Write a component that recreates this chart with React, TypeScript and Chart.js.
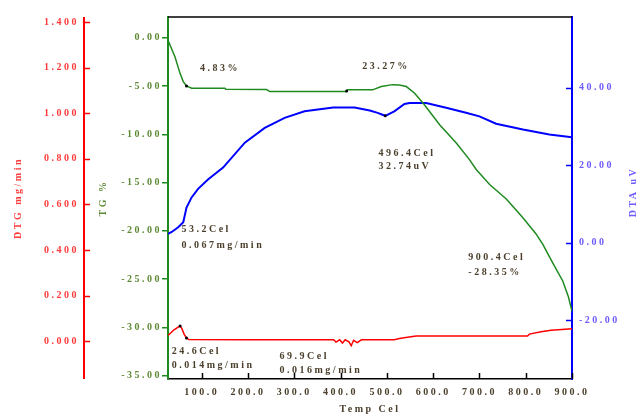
import { useEffect, useRef } from "react";
import { Chart, registerables } from "chart.js";

Chart.register(...registerables);

// Temperature axis (Cel)
const tempMin = 27;
const tempMax = 900;
const tempTicks = [100, 200, 300, 400, 500, 600, 700, 800, 900];

// TG curve (%)
const tgTemps = [27, 42, 53, 60, 67, 78, 150, 152, 240, 247, 413, 415, 469, 488, 512, 527, 542, 560, 581, 614, 650, 678, 693, 722, 758, 793, 822, 837, 858, 880, 892, 900];
const tgValues = [-0.25, -1.96, -3.68, -4.54, -4.98, -5.23, -5.23, -5.33, -5.36, -5.57, -5.57, -5.39, -5.39, -5.05, -4.85, -4.88, -5.05, -5.74, -6.94, -9.0, -10.9, -12.6, -13.64, -15.2, -16.7, -18.6, -20.3, -21.4, -23.3, -25.2, -26.8, -28.35];
const tgTicks = [0, -5, -10, -15, -20, -25, -30, -35];

// DTA curve (uV)
const dtaTemps = [27, 35, 49, 60, 67, 78, 92, 114, 146, 193, 236, 279, 322, 384, 430, 463, 480, 496.4, 516, 538, 549, 585, 628, 671, 700, 736, 794, 851, 900];
const dtaValues = [2.3, 2.8, 4.0, 5.3, 9.1, 11.7, 13.9, 16.4, 19.4, 25.8, 29.6, 32.2, 33.9, 34.9, 34.9, 34.1, 33.5, 32.74, 33.9, 35.8, 36.05, 36.05, 34.8, 33.5, 32.6, 30.7, 29.2, 27.9, 27.2];
const dtaTicks = [-20, 0, 20, 40];

// DTG curve (mg/min)
const dtgTemps = [27, 40, 53.2, 57, 62, 67, 72, 200, 300, 385, 390, 398, 404, 410, 418, 423, 428, 436, 445, 516, 527, 541, 563, 804, 808, 833, 855, 900];
const dtgValues = [0.025, 0.05, 0.067, 0.055, 0.03, 0.014, 0.007, 0.006, 0.006, 0.006, -0.004, 0.006, -0.008, 0.006, -0.003, -0.02, 0.004, -0.006, 0.006, 0.006, 0.012, 0.016, 0.023, 0.023, 0.031, 0.041, 0.048, 0.054];
const dtgTicks = [0, 0.2, 0.4, 0.6, 0.8, 1.0, 1.2, 1.4];

// Marked analysis points
const tgMarks = [{ x: 67, y: -4.98 }, { x: 413, y: -5.5 }];
const dtaMarks = [{ x: 496.4, y: 32.74 }];
const dtgMarks = [{ x: 53.2, y: 0.067 }, { x: 67, y: 0.014 }];

// Text notes, placed at (temperature, TG %)
const noteTexts = ["4.83%", "23.27%", "496.4Cel", "32.74uV", "53.2Cel", "0.067mg/min", "900.4Cel", "-28.35%", "24.6Cel", "0.014mg/min", "69.9Cel", "0.016mg/min"];
const noteTemps = [96, 447, 482, 482, 56, 56, 676, 676, 35, 35, 268, 268];
const noteTG = [-3.2, -3.0, -11.96, -13.3, -19.9, -21.5, -22.8, -24.33, -32.5, -33.97, -33.0, -34.5];

const GREEN = "#1f8a1f";
const BLUE = "#0000ff";
const RED = "#ff0000";
const FONT = "'Liberation Serif', 'Times New Roman', serif";
const SPACING = "2.5px";

const pts = (xs: number[], ys: number[]) => xs.map((x, i) => ({ x, y: ys[i] }));

const line = (ctx: CanvasRenderingContext2D, x1: number, y1: number, x2: number, y2: number) => {
  ctx.beginPath();
  ctx.moveTo(x1, y1);
  ctx.lineTo(x2, y2);
  ctx.stroke();
};

const decorPlugin = {
  id: "decor",
  beforeDraw(chart: any) {
    chart.ctx.letterSpacing = SPACING;
  },
  afterDatasetsDraw(chart: any) {
    const ctx: CanvasRenderingContext2D = chart.ctx;
    const ca = chart.chartArea;
    const xs = chart.scales.x;
    const dta = chart.scales.yDTA;
    const dtg = chart.scales.yDTG;
    ctx.save();
    ctx.lineCap = "butt";
    // top frame
    ctx.strokeStyle = "#000";
    ctx.lineWidth = 1.5;
    line(ctx, ca.left, ca.top, ca.right, ca.top);
    // inward temperature ticks
    ctx.lineWidth = 1.5;
    xs.ticks.forEach((t: any) => {
      const px = Math.round(xs.getPixelForValue(t.value)) + 0.5;
      line(ctx, px, ca.bottom, px, ca.bottom - 6);
    });
    // inward DTA ticks
    ctx.strokeStyle = BLUE;
    dta.ticks.forEach((t: any) => {
      const py = Math.round(dta.getPixelForValue(t.value)) + 0.5;
      line(ctx, ca.right - 6, py, ca.right, py);
    });
    // DTG axis line with ticks to the right
    ctx.strokeStyle = RED;
    ctx.lineWidth = 2;
    const ax = dtg.right - 6;
    line(ctx, ax, ca.top, ax, ca.bottom);
    ctx.lineWidth = 1.5;
    dtg.ticks.forEach((t: any) => {
      const py = Math.round(dtg.getPixelForValue(t.value)) + 0.5;
      line(ctx, ax, py, dtg.right, py);
    });
    ctx.restore();
  },
  afterDraw(chart: any) {
    const ctx: CanvasRenderingContext2D = chart.ctx;
    const xs = chart.scales.x;
    const tg = chart.scales.yTG;
    const dta = chart.scales.yDTA;
    const ca = chart.chartArea;
    ctx.save();
    ctx.letterSpacing = SPACING;
    ctx.font = `bold 10px ${FONT}`;
    ctx.fillStyle = "#4a3f2c";
    ctx.textAlign = "left";
    ctx.textBaseline = "middle";
    noteTexts.forEach((txt, i) => {
      ctx.fillText(txt, xs.getPixelForValue(noteTemps[i]), tg.getPixelForValue(noteTG[i]));
    });
    // right axis title, reading bottom to top
    ctx.translate(dta.right - 5, (ca.top + ca.bottom) / 2 - 6);
    ctx.rotate(-Math.PI / 2);
    ctx.textAlign = "center";
    ctx.fillStyle = "#6f5cff";
    ctx.fillText("DTA uV", 0, 0);
    ctx.restore();
  },
};

export default function App() {
  const canvasRef = useRef<HTMLCanvasElement>(null);

  useEffect(() => {
    const canvas = canvasRef.current;
    if (!canvas) return;
    const font = { family: FONT, size: 10, weight: "bold" as const };
    const chart = new Chart(canvas, {
      type: "line",
      data: {
        datasets: [
          { type: "scatter", data: tgMarks, yAxisID: "yTG", pointRadius: 1.5, pointBackgroundColor: "#000", pointBorderWidth: 0, showLine: false } as any,
          { type: "scatter", data: dtaMarks, yAxisID: "yDTA", pointRadius: 1.5, pointBackgroundColor: "#000", pointBorderWidth: 0, showLine: false } as any,
          { type: "scatter", data: dtgMarks, yAxisID: "yDTG", pointRadius: 1.5, pointBackgroundColor: "#000", pointBorderWidth: 0, showLine: false } as any,
          { label: "TG", data: pts(tgTemps, tgValues), yAxisID: "yTG", borderColor: GREEN, borderWidth: 1.5, pointRadius: 0, tension: 0 },
          { label: "DTA", data: pts(dtaTemps, dtaValues), yAxisID: "yDTA", borderColor: BLUE, borderWidth: 2, pointRadius: 0, tension: 0 },
          { label: "DTG", data: pts(dtgTemps, dtgValues), yAxisID: "yDTG", borderColor: RED, borderWidth: 1.5, pointRadius: 0, tension: 0 },
        ],
      },
      options: {
        responsive: false,
        animation: false,
        events: [],
        layout: { padding: { top: 15, left: 0, right: 0, bottom: 0 } },
        plugins: { legend: { display: false }, tooltip: { enabled: false } },
        scales: {
          x: {
            type: "linear",
            position: "bottom",
            min: tempMin,
            max: tempMax,
            afterBuildTicks: (s: any) => { s.ticks = tempTicks.map((v) => ({ value: v })); },
            afterFit: (s: any) => { s.height = 36; },
            grid: { display: false, drawTicks: false },
            border: { display: true, color: "#000", width: 1.5 },
            ticks: { padding: 7, color: "#4a3f2c", font, autoSkip: false, maxRotation: 0, callback: (v: any) => Number(v).toFixed(1) },
            title: { display: true, text: "Temp Cel", color: "#4a3f2c", font, padding: { top: 0, bottom: 0 } },
          },
          yDTG: {
            type: "linear",
            position: "left",
            weight: 2,
            min: -0.166,
            max: 1.422,
            afterBuildTicks: (s: any) => { s.ticks = dtgTicks.map((v) => ({ value: v })); },
            afterFit: (s: any) => { s.width = 90; },
            grid: { display: false, drawTicks: false, drawOnChartArea: false },
            border: { display: false },
            ticks: { padding: 11, color: "#ff3a3a", font, callback: (v: any) => Number(v).toFixed(3) },
            title: { display: true, text: "DTG mg/min", color: "#ff3a3a", font, padding: { top: 12, bottom: 0 } },
          },
          yTG: {
            type: "linear",
            position: "left",
            weight: 1,
            min: -35.36,
            max: 2.16,
            afterBuildTicks: (s: any) => { s.ticks = tgTicks.map((v) => ({ value: v })); },
            afterFit: (s: any) => { s.width = 78; },
            grid: { display: true, drawOnChartArea: false, drawTicks: true, tickLength: 6, color: GREEN, lineWidth: 1.5 },
            border: { display: true, color: GREEN, width: 2 },
            ticks: { padding: 0, color: "#5f8a36", font, callback: (v: any) => Number(v).toFixed(2) },
            title: { display: true, text: "TG %", color: "#5f8a36", font, padding: { top: 7, bottom: 0 } },
          },
          yDTA: {
            type: "linear",
            position: "right",
            min: -35.1,
            max: 58.2,
            afterBuildTicks: (s: any) => { s.ticks = dtaTicks.map((v) => ({ value: v })); },
            afterFit: (s: any) => { s.width = 66; },
            grid: { display: false, drawTicks: false, drawOnChartArea: false },
            border: { display: true, color: BLUE, width: 2 },
            ticks: { padding: 7, color: "#6f5cff", font, callback: (v: any) => Number(v).toFixed(2) },
            title: { display: false },
          },
        },
      },
      plugins: [decorPlugin],
    });
    return () => chart.destroy();
  }, []);

  return (
    <div style={{ position: "fixed", left: 0, top: 0, width: 638, height: 415, background: "#fff" }}>
      <canvas ref={canvasRef} width={638} height={415} />
    </div>
  );
}
